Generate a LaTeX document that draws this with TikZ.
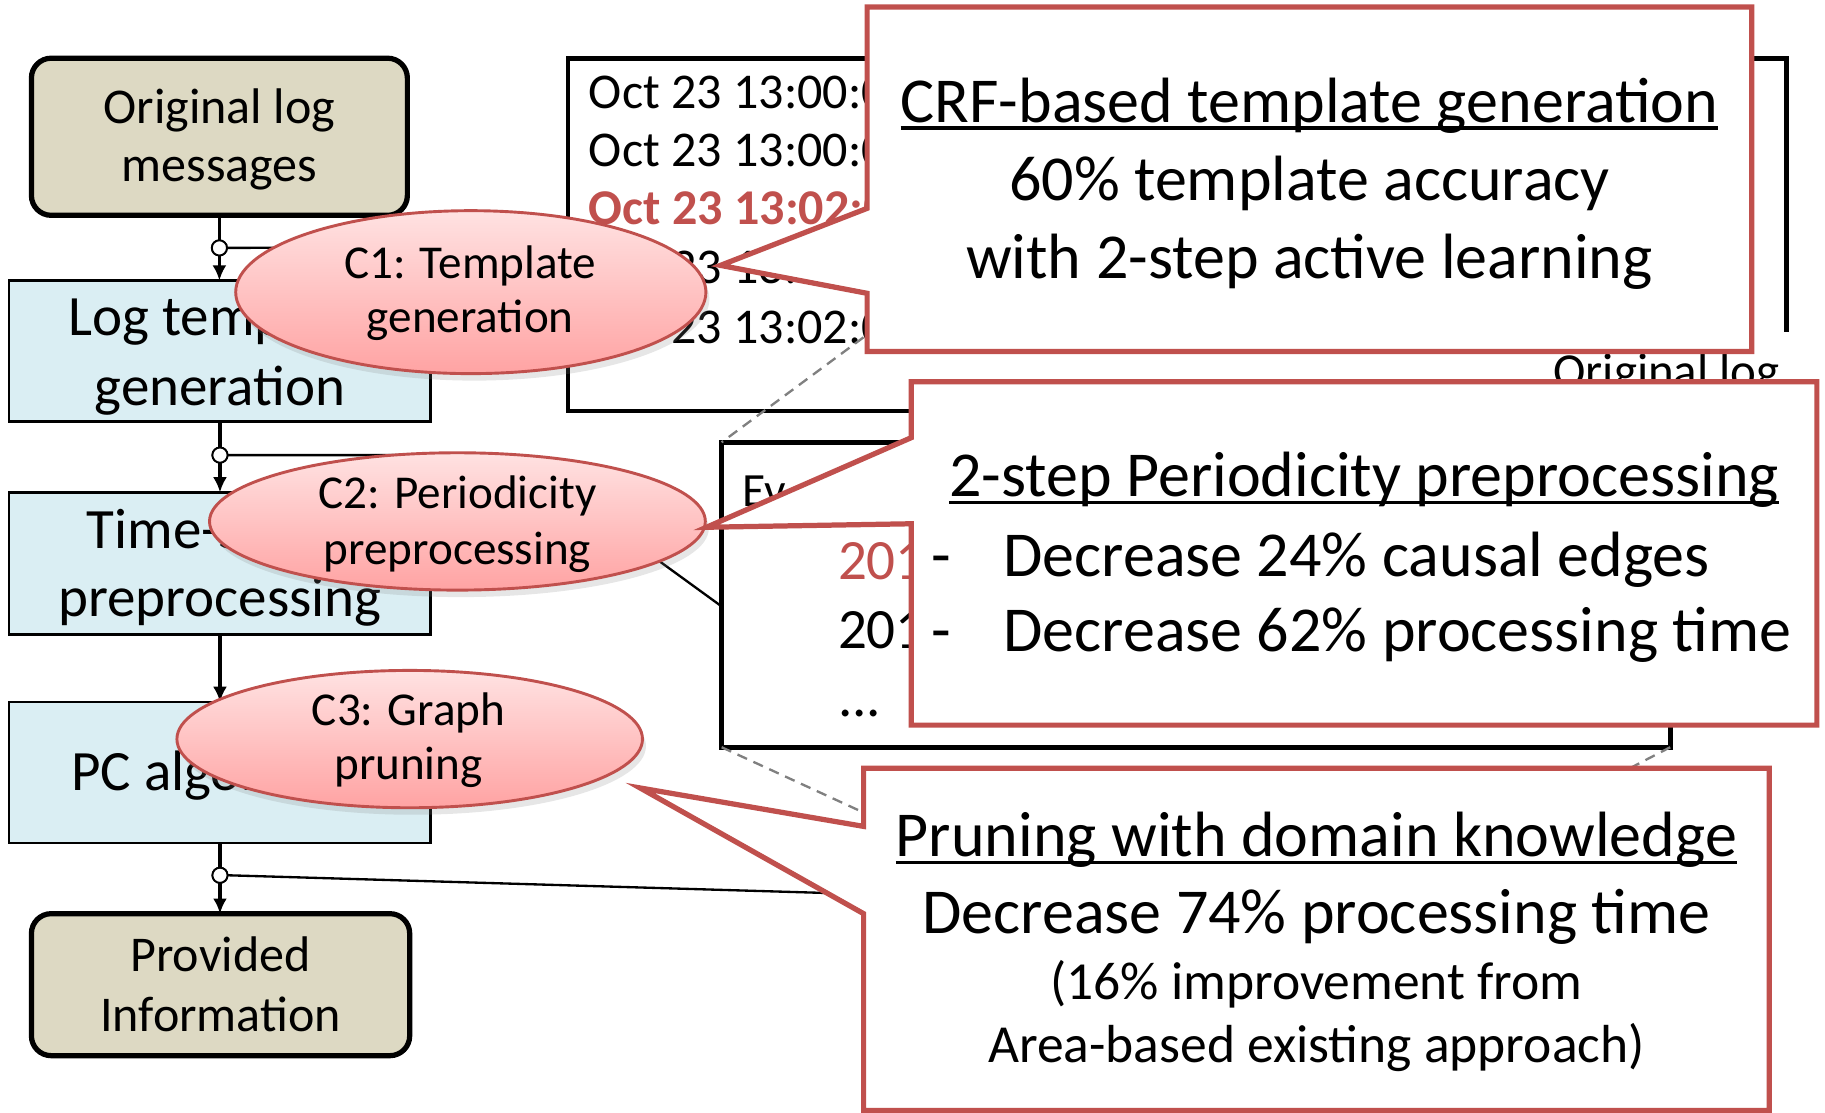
\documentclass[tikz,border=0pt]{standalone}
\usepackage{fontspec}
\setmainfont{Carlito}
\usetikzlibrary{arrows.meta,shapes.geometric,shadows}

\definecolor{tanfill}{RGB}{221,217,195}
\definecolor{bluefill}{RGB}{218,238,243}
\definecolor{accent}{RGB}{192,80,77}
\definecolor{pinktop}{RGB}{255,226,226}
\definecolor{pinkbot}{RGB}{255,163,163}
\definecolor{zoomgray}{RGB}{128,128,128}

% underline that sits just below the baseline and lets descenders cross it
\newcommand\ulined[1]{\setbox0=\hbox{#1}\rlap{\rule[-0.115em]{\wd0}{0.05em}}\box0}

\begin{document}
\begin{tikzpicture}[x=1pt,y=-1pt,
  every node/.style={inner sep=0pt,outer sep=0pt},
  tanbox/.style={draw=black,line width=4.5pt,fill=tanfill,rounded corners=17pt},
  bluebox/.style={draw=black,line width=2pt,fill=bluefill},
  tantxt/.style={anchor=base,font=\fontsize{43}{50}\selectfont},
  bluetxt/.style={anchor=base,font=\fontsize{49}{58}\selectfont},
  flowarrow/.style={line width=3pt,-{Latex[length=13pt,width=12pt]}},
  jct/.style={circle,draw=black,fill=white,line width=1.6pt,minimum size=13pt},
  branch/.style={line width=2pt},
  winline/.style={line width=4pt,line join=miter},
  wintxt/.style={anchor=base west,font=\fontsize{43}{50}\selectfont},
  evtxt/.style={anchor=base west,font=\fontsize{49}{58}\selectfont},
  zoomline/.style={draw=zoomgray,line width=2pt,dash pattern=on 9pt off 6pt},
  contrib/.style={ellipse,draw=accent,line width=2.5pt,top color=pinktop,bottom color=pinkbot,
    drop shadow={shadow xshift=3pt,shadow yshift=-6pt,opacity=.2}},
  contribtxt/.style={anchor=base,font=\fontsize{40.5}{47}\selectfont},
  calloutbox/.style={rectangle},
  calloutline/.style={draw=accent,fill=white,line width=4.5pt,line join=miter},
  bigtxt/.style={anchor=base,font=\fontsize{55}{66}\selectfont},
  smalltxt/.style={anchor=base,font=\fontsize{46}{54}\selectfont},
  bullettxt/.style={anchor=base west,font=\fontsize{55}{66}\selectfont}
]
\useasboundingbox (0,0) rectangle (1568,956);

% ---------- processing flow ----------
\node[tanbox,minimum width=323pt,minimum height=135pt] (orig) at (188.5,117.5) {};
\node[tantxt] (origA) at (188.5,106) {Original log};
\node[tantxt] (origB) at (188.5,156) {messages};

\node[bluebox,minimum width=362pt,minimum height=121pt] (logtpl) at (189,301.5) {};
\node[bluetxt] (logtplA) at (189,288) {Log template};
\node[bluetxt] (logtplB) at (189,348) {generation};

\node[bluebox,minimum width=362pt,minimum height=122pt] (tsp) at (189,484) {};
\node[bluetxt] (tspA) at (189,471) {Time-series};
\node[bluetxt] (tspB) at (189,530) {preprocessing};

\node[bluebox,minimum width=362pt,minimum height=121pt] (pc) at (189,663.5) {};
\node[bluetxt] (pcA) at (189,679) {PC algorithm};

\node[tanbox,minimum width=325pt,minimum height=122pt] (prov) at (189.5,846) {};
\node[tantxt] (provA) at (189.5,835) {Provided};
\node[tantxt] (provB) at (189.5,886) {Information};

\draw[flowarrow] (orig.south) -- (orig.south |- logtpl.north);
\draw[flowarrow] (logtpl.south) -- (tsp.north);
\draw[flowarrow] (tsp.south) -- (pc.north);
\draw[flowarrow] (pc.south) -- (pc.south |- prov.north);

% ---------- data windows ----------
\node[minimum width=1047pt,minimum height=303pt] (logwin) at (1011.5,201.5) {};
\node[minimum width=815pt,minimum height=262pt] (evwin) at (1027.5,511) {};

\coordinate (tap1) at (488,212);
\coordinate (bend2) at (441,391);
\coordinate (tap2) at (620,521);
\coordinate (tap3) at (770,769);

% taps from the flow into the windows
\node[jct] (j1) at (188.5,213) {};
\node[jct] (j2) at (189,391) {};
\node[jct] (j3) at (189,752) {};
\draw[branch] (j1.east) -- (tap1);
\draw[branch] (j2.east) -- (bend2) -- (tap2);
\draw[branch] (j3.east) -- (tap3);
\node[jct] at (j1) {};
\node[jct] at (j2) {};
\node[jct] at (j3) {};

\draw[winline] (logwin.south east) -- (logwin.south west) -- (logwin.north west)
  -- (logwin.north east) -- ++(0,235);
\node[wintxt] (l1) at (506,93) {Oct 23 13:00:0};
\node[wintxt] (l2) at (506,143) {Oct 23 13:00:0};
\node[wintxt,text=accent,font=\fontsize{43}{50}\selectfont\bfseries] (l3) at (506,193) {Oct 23 13:02:0};
\node[wintxt] (l4) at (506,244) {Oct 23 13:02:0};
\node[wintxt] (l5) at (506,295) {Oct 23 13:02:0};
\node[anchor=base east,font=\fontsize{42}{49}\selectfont] (logcap) at (1529,333) {Original log};

\draw[winline,fill=white] (evwin.north west) rectangle (evwin.south east);
\node[anchor=base west,font=\fontsize{41}{48}\selectfont] (e0) at (638,435) {Ev};
\node[evtxt,text=accent] (e1) at (720,498) {201};
\node[evtxt] (e2) at (720,557) {201};
\node[evtxt] (e3) at (720,616) {...};

% zoom guides between windows
\coordinate (zsrc) at (766,272);
\coordinate (zdst1) at (770,711);
\coordinate (zdst2) at (1385,668);
\draw[zoomline] (zsrc) -- (evwin.north west);
\draw[zoomline] (evwin.south west) -- (zdst1);
\draw[zoomline] (evwin.south east) -- (zdst2);

% ---------- contributions ----------
\node[contrib,minimum width=404pt,minimum height=140pt] (c1) at (404.5,251) {};
\node[contribtxt] (c1A) at (404,239) {C1: Template};
\node[contribtxt] (c1B) at (404,286) {generation};

\node[contrib,minimum width=426pt,minimum height=118pt] (c2) at (393,448) {};
\node[contribtxt] (c2A) at (393,437) {C2: Periodicity};
\node[contribtxt] (c2B) at (393,485) {preprocessing};

\node[contrib,minimum width=400pt,minimum height=118pt] (c3) at (352,635) {};
\node[contribtxt] (c3A) at (351,623) {C3: Graph};
\node[contribtxt] (c3B) at (351,670) {pruning};

% ---------- callouts ----------
\node[calloutbox,minimum width=760pt,minimum height=296pt] (cb1) at (1125,154) {};
\coordinate (tip1) at (619,228);
\draw[calloutline] (cb1.north west) -- (cb1.north east) -- (cb1.south east) -- (cb1.south west)
  -- (cb1.west |- 0,252) -- (tip1) -- (cb1.west |- 0,179) -- cycle;
\node[bigtxt] (cb1A) at (1125,105) {\ulined{CRF-based template generation}};
\node[bigtxt] (cb1B) at (1125,172) {60\% template accuracy};
\node[bigtxt] (cb1C) at (1125,239) {with 2-step active learning};

\node[calloutbox,minimum width=778pt,minimum height=295pt] (cb2) at (1172,475.5) {};
\coordinate (tip2) at (607,453);
\draw[calloutline] (cb2.north west) -- (cb2.north east) -- (cb2.south east) -- (cb2.south west)
  -- (cb2.west |- 0,450) -- (tip2) -- (cb2.west |- 0,376) -- cycle;
\node[bigtxt] (cb2A) at (1172,427) {\ulined{2-step Periodicity preprocessing}};
\node[bullettxt] (cb2d1) at (800,495) {-};
\node[bullettxt] (cb2B) at (862,495) {Decrease 24\% causal edges};
\node[bullettxt] (cb2d2) at (800,560) {-};
\node[bullettxt] (cb2C) at (862,560) {Decrease 62\% processing time};

\node[calloutbox,minimum width=778pt,minimum height=294pt] (cb3) at (1131,807) {};
\coordinate (tip3) at (550,677);
\draw[calloutline] (cb3.north west) -- (cb3.north east) -- (cb3.south east) -- (cb3.south west)
  -- (cb3.west |- 0,785) -- (tip3) -- (cb3.west |- 0,710) -- cycle;
\node[bigtxt] (cb3A) at (1131,736) {\ulined{Pruning with domain knowledge}};
\node[bigtxt] (cb3B) at (1131,802) {Decrease 74\% processing time};
\node[smalltxt] (cb3C) at (1131,859) {(16\% improvement from};
\node[smalltxt] (cb3D) at (1131,913) {Area-based existing approach)};
\end{tikzpicture}
\end{document}
